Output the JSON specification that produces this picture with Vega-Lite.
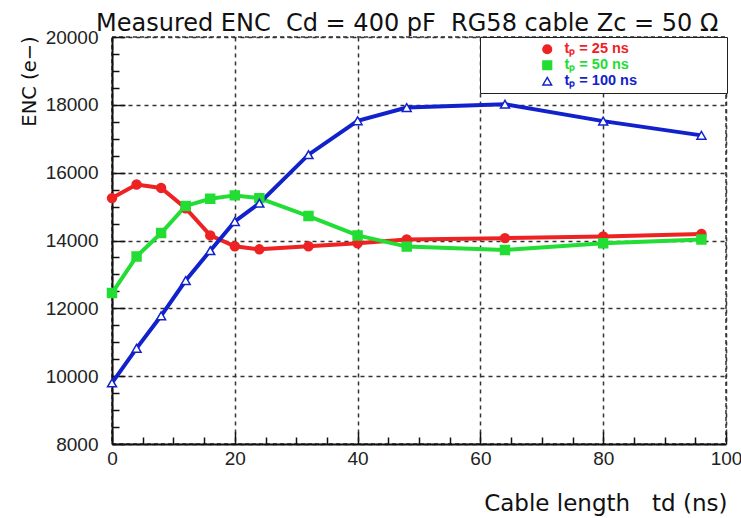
{
  "$schema": "https://vega.github.io/schema/vega-lite/v6.json",
  "width": 614,
  "height": 407,
  "autosize": {"type": "none"},
  "padding": {"left": 112, "top": 37, "right": 15, "bottom": 74},
  "background": "white",
  "title": {
    "text": "Measured ENC\u00a0\u00a0Cd = 400 pF\u00a0\u00a0RG58 cable Zc = 50 Ω",
    "anchor": "start",
    "frame": "group",
    "dx": -16,
    "dy": 27,
    "offset": 0,
    "baseline": "alphabetic",
    "fontSize": 24,
    "font": "DejaVu Sans",
    "fontWeight": "normal",
    "color": "#111111"
  },
  "config": {
    "view": {"stroke": "#333333", "strokeDash": [4, 3], "strokeWidth": 1.5}
  },
  "data": {
    "values": [
      {"t": 0, "enc": 15250, "series": "tₚ = 25 ns"},
      {"t": 4, "enc": 15650, "series": "tₚ = 25 ns"},
      {"t": 8, "enc": 15550, "series": "tₚ = 25 ns"},
      {"t": 12, "enc": 14950, "series": "tₚ = 25 ns"},
      {"t": 16, "enc": 14150, "series": "tₚ = 25 ns"},
      {"t": 20, "enc": 13830, "series": "tₚ = 25 ns"},
      {"t": 24, "enc": 13740, "series": "tₚ = 25 ns"},
      {"t": 32, "enc": 13830, "series": "tₚ = 25 ns"},
      {"t": 40, "enc": 13920, "series": "tₚ = 25 ns"},
      {"t": 48, "enc": 14030, "series": "tₚ = 25 ns"},
      {"t": 64, "enc": 14070, "series": "tₚ = 25 ns"},
      {"t": 80, "enc": 14120, "series": "tₚ = 25 ns"},
      {"t": 96, "enc": 14190, "series": "tₚ = 25 ns"},
      {"t": 0, "enc": 12450, "series": "tₚ = 50 ns"},
      {"t": 4, "enc": 13530, "series": "tₚ = 50 ns"},
      {"t": 8, "enc": 14220, "series": "tₚ = 50 ns"},
      {"t": 12, "enc": 15020, "series": "tₚ = 50 ns"},
      {"t": 16, "enc": 15230, "series": "tₚ = 50 ns"},
      {"t": 20, "enc": 15330, "series": "tₚ = 50 ns"},
      {"t": 24, "enc": 15250, "series": "tₚ = 50 ns"},
      {"t": 32, "enc": 14720, "series": "tₚ = 50 ns"},
      {"t": 40, "enc": 14150, "series": "tₚ = 50 ns"},
      {"t": 48, "enc": 13820, "series": "tₚ = 50 ns"},
      {"t": 64, "enc": 13720, "series": "tₚ = 50 ns"},
      {"t": 80, "enc": 13920, "series": "tₚ = 50 ns"},
      {"t": 96, "enc": 14030, "series": "tₚ = 50 ns"},
      {"t": 0, "enc": 9800, "series": "tₚ = 100 ns"},
      {"t": 4, "enc": 10820, "series": "tₚ = 100 ns"},
      {"t": 8, "enc": 11780, "series": "tₚ = 100 ns"},
      {"t": 12, "enc": 12820, "series": "tₚ = 100 ns"},
      {"t": 16, "enc": 13700, "series": "tₚ = 100 ns"},
      {"t": 20, "enc": 14560, "series": "tₚ = 100 ns"},
      {"t": 24, "enc": 15100, "series": "tₚ = 100 ns"},
      {"t": 32, "enc": 16530, "series": "tₚ = 100 ns"},
      {"t": 40, "enc": 17530, "series": "tₚ = 100 ns"},
      {"t": 48, "enc": 17920, "series": "tₚ = 100 ns"},
      {"t": 64, "enc": 18020, "series": "tₚ = 100 ns"},
      {"t": 80, "enc": 17520, "series": "tₚ = 100 ns"},
      {"t": 96, "enc": 17100, "series": "tₚ = 100 ns"}
    ]
  },
  "encoding": {
    "x": {
      "field": "t",
      "type": "quantitative",
      "scale": {"domain": [0, 100], "nice": false, "zero": false},
      "axis": {
        "values": [0, 5, 10, 15, 20, 25, 30, 35, 40, 45, 50, 55, 60, 65, 70, 75, 80, 85, 90, 95, 100],
        "labelExpr": "datum.value % 20 === 0 ? datum.label : ''",
        "labelOverlap": false,
        "labelFlush": false,
        "labelFont": "Liberation Sans",
        "labelFontSize": 19,
        "labelColor": "#222222",
        "labelPadding": 17,
        "grid": true,
        "gridColor": "#333333",
        "gridDash": [4, 4],
        "gridWidth": 1.5,
        "gridOpacity": {"condition": {"test": "datum.value % 20 === 0", "value": 1}, "value": 0},
        "ticks": true,
        "tickColor": "#111111",
        "tickWidth": 1.5,
        "tickSize": {"condition": {"test": "datum.value % 20 === 0", "value": -12}, "value": -7},
        "domainColor": "#111111",
        "domainWidth": 2,
        "title": "Cable length\u00a0\u00a0\u00a0td (ns)",
        "titleFont": "DejaVu Sans",
        "titleFontSize": 23,
        "titleFontWeight": "normal",
        "titleColor": "#111111",
        "titleX": 615,
        "titleY": 66,
        "titleAlign": "right",
        "titleBaseline": "alphabetic"
      }
    },
    "y": {
      "field": "enc",
      "type": "quantitative",
      "scale": {"domain": [8000, 20000], "nice": false, "zero": false},
      "axis": {
        "values": [8000, 8500, 9000, 9500, 10000, 10500, 11000, 11500, 12000, 12500, 13000, 13500, 14000, 14500, 15000, 15500, 16000, 16500, 17000, 17500, 18000, 18500, 19000, 19500, 20000],
        "labelExpr": "datum.value % 2000 === 0 ? datum.value : ''",
        "labelOverlap": false,
        "labelFlush": false,
        "labelFont": "Liberation Sans",
        "labelFontSize": 19,
        "labelColor": "#222222",
        "labelPadding": 27,
        "grid": true,
        "gridColor": "#333333",
        "gridDash": [4, 4],
        "gridWidth": 1.5,
        "gridOpacity": {"condition": {"test": "datum.value % 2000 === 0", "value": 1}, "value": 0},
        "ticks": true,
        "tickColor": "#111111",
        "tickWidth": 1.5,
        "tickSize": {"condition": {"test": "datum.value % 2000 === 0", "value": -13}, "value": -7},
        "domainColor": "#111111",
        "domainWidth": 2,
        "title": "ENC (e−)",
        "titleFont": "DejaVu Sans",
        "titleFontSize": 19.5,
        "titleFontWeight": "normal",
        "titleColor": "#111111",
        "titleAngle": -90,
        "titleX": -83,
        "titleY": 44,
        "titleAlign": "center",
        "titleBaseline": "middle"
      }
    },
    "color": {
      "field": "series",
      "type": "nominal",
      "sort": ["tₚ = 25 ns", "tₚ = 50 ns", "tₚ = 100 ns"],
      "scale": {"domain": ["tₚ = 25 ns", "tₚ = 50 ns", "tₚ = 100 ns"], "range": ["#ee2222", "#22dd33", "#1122cc"]},
      "legend": {
        "orient": "none",
        "legendX": 368,
        "legendY": 0,
        "title": "MMMMMM",
        "titleOrient": "right",
        "titleOpacity": 0,
        "titleFontSize": 14,
        "titlePadding": 15,
        "strokeColor": "#222222",
        "fillColor": "white",
        "padding": 5,
        "symbolOffset": 55,
        "symbolSize": 75,
        "symbolStrokeWidth": 1.5,
        "labelFont": "Liberation Sans",
        "labelFontSize": 14.5,
        "labelFontWeight": "bold",
        "labelLimit": 400,
        "rowPadding": 0,
        "labelOffset": 10,
        "encode": {
          "labels": {
            "update": {
              "fill": {"scale": "color", "field": "value"}
            }
          }
        }
      }
    }
  },
  "layer": [
    {
      "mark": {"type": "line", "strokeWidth": 4}
    },
    {
      "mark": {"type": "point", "filled": false, "strokeWidth": 1.5, "size": 80, "opacity": 1},
      "encoding": {
        "shape": {
          "field": "series",
          "type": "nominal",
          "scale": {"domain": ["tₚ = 25 ns", "tₚ = 50 ns", "tₚ = 100 ns"], "range": ["circle", "square", "triangle-up"]}
        },
        "fill": {
          "field": "series",
          "type": "nominal",
          "scale": {"domain": ["tₚ = 25 ns", "tₚ = 50 ns", "tₚ = 100 ns"], "range": ["#ee2222", "#22dd33", "#ffffff"]}
        }
      }
    }
  ]
}
